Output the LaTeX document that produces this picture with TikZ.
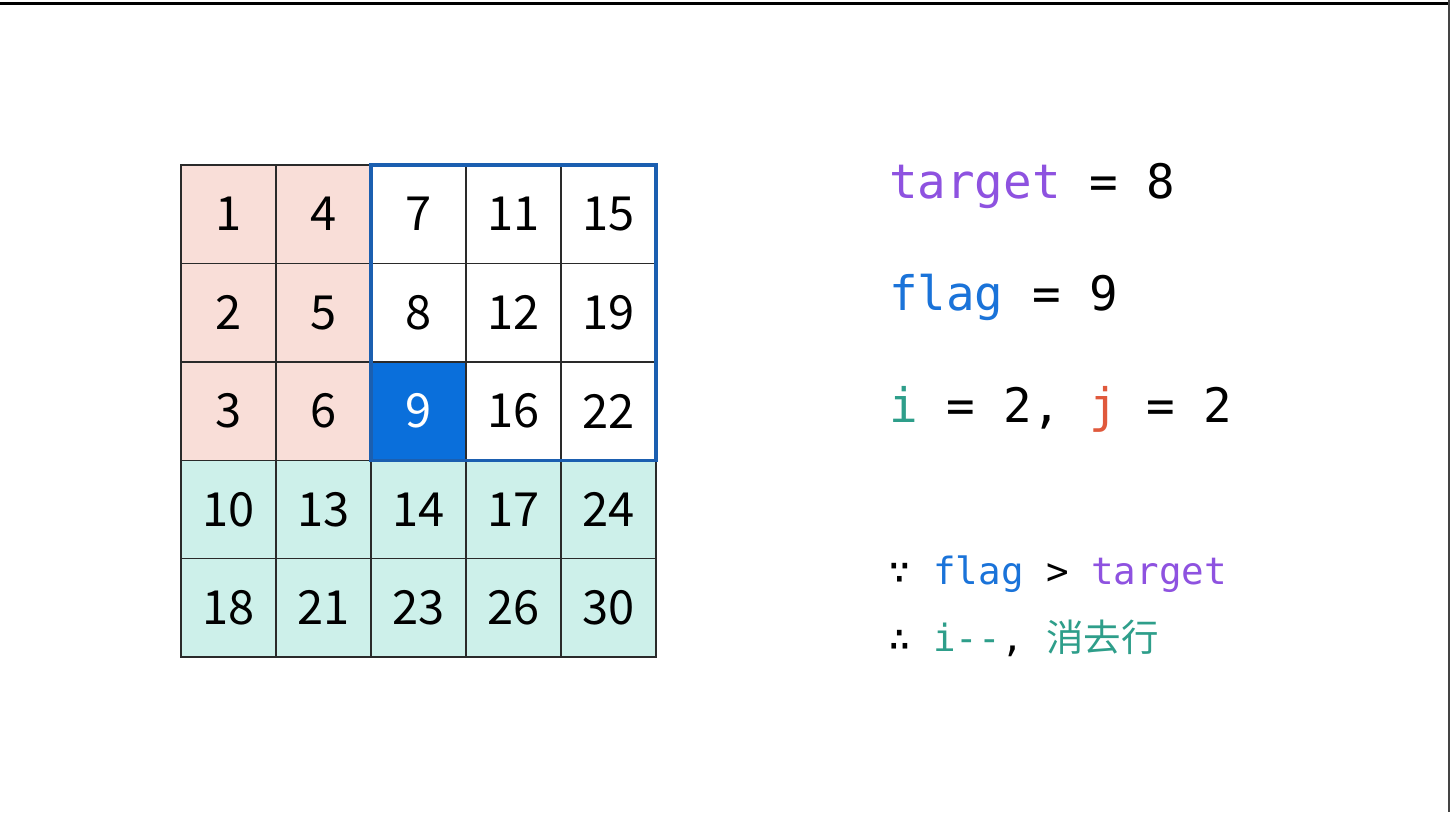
\documentclass[tikz,border=0pt]{standalone}
\usepackage{fontspec}
\newfontfamily\cjk{Noto Sans CJK SC}
\newfontfamily\mono{DejaVu Sans Mono}
\definecolor{pinkc}{HTML}{F9DED8}
\definecolor{tealc}{HTML}{CDF0EA}
\definecolor{bluec}{HTML}{0A6FDB}
\definecolor{blueb}{HTML}{1B5FB0}
\definecolor{gridc}{HTML}{2A2A2A}
\definecolor{purp}{HTML}{8E52E0}
\definecolor{flagc}{HTML}{1A73D9}
\definecolor{ic}{HTML}{2E9E8A}
\definecolor{jc}{HTML}{E0593C}
\definecolor{edgec}{HTML}{444444}
\begin{document}
\begin{tikzpicture}[x=1bp,y=-1bp,
  cell/.style={draw=gridc, line width=1.4bp, minimum width=95bp, minimum height=98.4bp,
    inner sep=0, outer sep=0, anchor=center, font=\cjk\fontsize{47bp}{50bp}\selectfont},
  pk/.style={cell, fill=pinkc},
  wt/.style={cell, fill=white},
  bl/.style={cell, fill=bluec, text=white},
  tl/.style={cell, fill=tealc},
  bigtxt/.style={inner sep=0, anchor=base west, font=\mono\fontsize{47.5bp}{52bp}\selectfont},
  smalltxt/.style={inner sep=0, anchor=base west, font=\mono\fontsize{37.5bp}{40bp}\selectfont}]
\useasboundingbox (0,0) rectangle (1450,812);
\fill[white] (0,0) rectangle (1450,812);
\draw[line width=3.5bp, black] (0,3.5) -- (1450,3.5);
\draw[line width=2bp, edgec] (1448.5,0) -- (1448.5,812);
% row 1
\node[pk] (c11) at (228.5,214.2) {1};
\node[pk] (c12) at (323.5,214.2) {4};
\node[wt] (c13) at (418.5,214.2) {7};
\node[wt] (c14) at (513.5,214.2) {11};
\node[wt] (c15) at (608.5,214.2) {15};
% row 2
\node[pk] (c21) at (228.5,312.6) {2};
\node[pk] (c22) at (323.5,312.6) {5};
\node[wt] (c23) at (418.5,312.6) {8};
\node[wt] (c24) at (513.5,312.6) {12};
\node[wt] (c25) at (608.5,312.6) {19};
% row 3
\node[pk] (c31) at (228.5,411.0) {3};
\node[pk] (c32) at (323.5,411.0) {6};
\node[bl] (c33) at (418.5,411.0) {9};
\node[wt] (c34) at (513.5,411.0) {16};
\node[wt] (c35) at (608.5,411.0) {22};
% row 4
\node[tl] (c41) at (228.5,509.4) {10};
\node[tl] (c42) at (323.5,509.4) {13};
\node[tl] (c43) at (418.5,509.4) {14};
\node[tl] (c44) at (513.5,509.4) {17};
\node[tl] (c45) at (608.5,509.4) {24};
% row 5
\node[tl] (c51) at (228.5,607.8) {18};
\node[tl] (c52) at (323.5,607.8) {21};
\node[tl] (c53) at (418.5,607.8) {23};
\node[tl] (c54) at (513.5,607.8) {26};
\node[tl] (c55) at (608.5,607.8) {30};
% search window
\draw[blueb, line width=3.2bp] (c13.north west) rectangle (c35.south east);
% right side texts
\node[bigtxt] (t1) at (889,198) {\textcolor{purp}{target} = 8};
\node[bigtxt] (t2) at (889,310) {\textcolor{flagc}{flag} = 9};
\node[bigtxt] (t3) at (889,422) {\textcolor{ic}{i} = 2, \textcolor{jc}{j} = 2};
\node[smalltxt] (t4) at (888,584) {∵ \textcolor{flagc}{flag} > \textcolor{purp}{target}};
\node[smalltxt] (t5) at (888,651) {∴ \textcolor{ic}{i--}, \textcolor{ic}{\cjk 消去行}};
\end{tikzpicture}
\end{document}
